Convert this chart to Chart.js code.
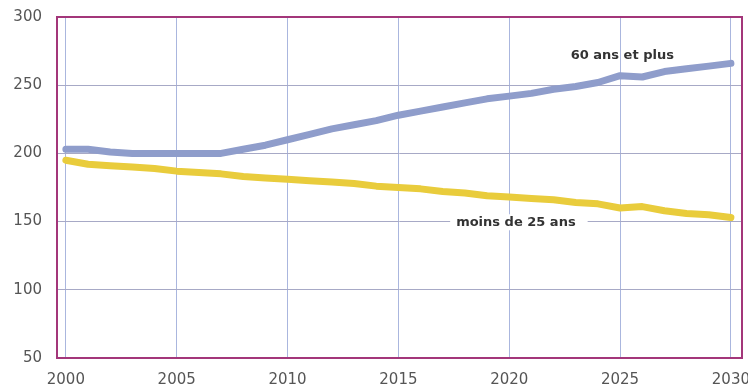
<!DOCTYPE html>
<html>
<head>
<meta charset="utf-8">
<script src="https://cdn.jsdelivr.net/npm/chart.js@4/dist/chart.umd.min.js"></script>
<style>
  html, body { margin: 0; padding: 0; background: #fff; }
  #wrap { width: 748px; height: 384px; position: relative; }
</style>
</head>
<body>
<div id="wrap"><canvas id="c" width="748" height="384"></canvas></div>
<script>
// Population projections, 2000-2030
const years = [2000,2001,2002,2003,2004,2005,2006,2007,2008,2009,2010,2011,2012,2013,2014,2015,
               2016,2017,2018,2019,2020,2021,2022,2023,2024,2025,2026,2027,2028,2029,2030];
const plus60 = [203,203,201,200,200,200,200,200,203,206,210,214,218,221,224,228,
                231,234,237,240,242,244,247,249,252,257,256,260,262,264,266];
const moins25 = [195,192,191,190,189,187,186,185,183,182,181,180,179,178,176,175,
                 174,172,171,169,168,167,166,164,163,160,161,158,156,155,153];
const yTicks = [50,100,150,200,250,300];
const xTicks = [2000,2005,2010,2015,2020,2025,2030];
const seriesLabels = ['60 ans et plus', 'moins de 25 ans'];

const toPts = (vals) => years.map((y, i) => ({ x: y, y: vals[i] }));

// Frame around the plot area plus the inline series labels
const framePlugin = {
  id: 'frame',
  afterDraw(chart) {
    const { ctx, chartArea: a } = chart;
    ctx.save();
    ctx.strokeStyle = '#a3367a';
    ctx.lineWidth = 2;
    ctx.strokeRect(a.left, a.top, a.right - a.left, a.bottom - a.top);
    ctx.restore();
  },
  afterDatasetsDraw(chart) {
    const { ctx, scales: { x, y } } = chart;
    ctx.save();
    ctx.font = 'bold 13px "DejaVu Sans", sans-serif';
    ctx.textAlign = 'center';
    ctx.textBaseline = 'middle';
    ctx.fillStyle = '#333';
    ctx.fillText(seriesLabels[0], x.getPixelForValue(2025.1), y.getPixelForValue(271.5));
    // under-25 label sits on a white patch over the grid
    const lx = x.getPixelForValue(2020.3), ly = y.getPixelForValue(149.5);
    const tw = ctx.measureText(seriesLabels[1]).width;
    ctx.fillStyle = '#fff';
    ctx.fillRect(lx - tw / 2 - 6, ly - 8, tw + 18, 16);
    ctx.fillStyle = '#333';
    ctx.fillText(seriesLabels[1], lx, ly);
    ctx.restore();
  }
};

const tickFont = { family: '"DejaVu Sans", sans-serif', size: 15 };

new Chart(document.getElementById('c'), {
  type: 'line',
  data: {
    datasets: [
      { label: seriesLabels[0], data: toPts(plus60), borderColor: '#8f9dcb', borderWidth: 7,
        pointRadius: 0, tension: 0, borderCapStyle: 'round', borderJoinStyle: 'round' },
      { label: seriesLabels[1], data: toPts(moins25), borderColor: '#e9cc3c', borderWidth: 7,
        pointRadius: 0, tension: 0, borderCapStyle: 'round', borderJoinStyle: 'round' }
    ]
  },
  options: {
    responsive: false,
    animation: false,
    layout: { padding: { top: 17, right: 6, left: 0, bottom: 0 } },
    plugins: { legend: { display: false }, tooltip: { enabled: false } },
    scales: {
      x: {
        type: 'linear',
        min: 1999.6, max: 2030.5,
        afterBuildTicks: (axis) => { axis.ticks = xTicks.map(v => ({ value: v })); },
        afterFit: (axis) => {
          axis.height = 26;
          axis.paddingLeft = 0; axis.paddingRight = 0;
        },
        grid: { color: '#aab6de', lineWidth: 1, drawTicks: false },
        border: { display: false },
        ticks: { color: '#555', font: tickFont,
                 padding: 13, maxRotation: 0, autoSkip: false, callback: v => String(v) }
      },
      y: {
        min: 50, max: 300,
        afterBuildTicks: (axis) => { axis.ticks = yTicks.map(v => ({ value: v })); },
        afterFit: (axis) => {
          axis.width = 57;
          axis.paddingTop = 0; axis.paddingBottom = 0;
        },
        grid: { color: '#a7a9c6', lineWidth: 1, drawTicks: false },
        border: { display: false },
        ticks: { color: '#555', font: tickFont, padding: 15 }
      }
    }
  },
  plugins: [framePlugin]
});
</script>
</body>
</html>
